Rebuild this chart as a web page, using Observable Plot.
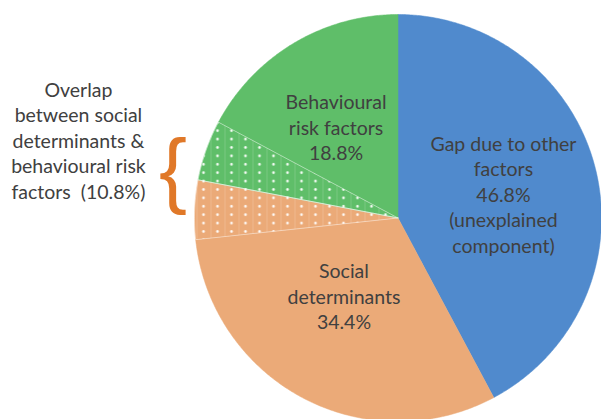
<!DOCTYPE html>
<html><head><meta charset="utf-8">
<script src="https://cdn.jsdelivr.net/npm/d3@7"></script>
<script src="https://cdn.jsdelivr.net/npm/@observablehq/plot@0.6"></script>
<style>html,body{margin:0;padding:0;background:#fff;}</style>
</head><body><div id="chart"></div>
<script>
// ---- data ----
const sliceNames = ["Gap due to other factors", "Social determinants", "Overlap (social side)", "Overlap (behavioural side)", "Behavioural risk factors"];
const sliceShares = [42.2, 31.1, 4.7, 4.8, 17.2];
const sliceColors = ["#508ACD", "#EBAA78", "#EBAA78", "#5FBE69", "#5FBE69"];
const slicePatterned = [false, false, true, true, false];

const labelTexts = [
  "Gap due to other\nfactors\n46.8%\n(unexplained\ncomponent)",
  "Social\ndeterminants\n34.4%",
  "Behavioural\nrisk factors\n18.8%",
  "Overlap\nbetween social\ndeterminants &\nbehavioural risk\nfactors\u00a0 (10.8%)"
];
// label anchors: polar (degrees clockwise from top, radius as fraction of pie radius)
const labelAngles = [76.9, 214.9, 325.9, 283.8];
const labelRadii = [0.532, 0.464, 0.543, 1.617];
const braceAngle = 281.7, braceRadius = 1.129;

// ---- layout ----
const W = 601, H = 419, CX = 397.5, CY = 217.5, R = 203.5;

const pie = d3.pie().sort(null).value(d => d)(sliceShares);
const polys = [];
pie.forEach((p, i) => {
  const pts = [[0, 0]];
  const n = Math.max(2, Math.ceil((p.endAngle - p.startAngle) / (Math.PI / 360)));
  for (let k = 0; k <= n; k++) {
    const a = p.startAngle + (p.endAngle - p.startAngle) * k / n;
    pts.push([Math.sin(a), Math.cos(a)]);
  }
  pts.push([0, 0]);
  pts.forEach(([x, y]) => polys.push({slice: sliceNames[i], color: sliceColors[i], pattern: slicePatterned[i], x, y}));
});
const rad = d => d * Math.PI / 180;
const labels = labelTexts.map((t, i) => ({text: t, x: labelRadii[i] * Math.sin(rad(labelAngles[i])), y: labelRadii[i] * Math.cos(rad(labelAngles[i]))}));
const brace = [{text: "{", x: braceRadius * Math.sin(rad(braceAngle)), y: braceRadius * Math.cos(rad(braceAngle))}];

const svg = Plot.plot({
  width: W, height: H,
  marginTop: 0, marginRight: 0, marginBottom: 0, marginLeft: 0,
  x: {domain: [(0 - CX) / R, (W - CX) / R], axis: null},
  y: {domain: [(CY - H) / R, CY / R], axis: null},
  color: {type: "identity"},
  marks: [
    Plot.line(polys, {x: "x", y: "y", z: "slice", fill: "color", stroke: "color", strokeWidth: 0.5, curve: "linear"}),
    Plot.line(polys.filter(d => d.pattern), {x: "x", y: "y", z: "slice", fill: "url(#dots)", stroke: "#ffffff", strokeOpacity: 0.55, strokeWidth: 0.8, curve: "linear"}),
    Plot.text(labels, {x: "x", y: "y", text: "text", fontSize: 19.5, lineHeight: 1.31, fill: "#404040", fontFamily: "Lato"}),
    Plot.text(brace, {x: "x", y: "y", text: "text", fontSize: 84, fill: "#E07828", fontFamily: "Liberation Sans", fontWeight: 300})
  ]
});
const ns = "http://www.w3.org/2000/svg";
const defs = document.createElementNS(ns, "defs");
defs.innerHTML = '<pattern id="dots" patternUnits="userSpaceOnUse" width="14" height="8.4"><path d="M0.4,0V8.4" stroke="#fff" stroke-opacity="0.22" stroke-width="0.8"/><circle cx="7" cy="4.2" r="1.3" fill="#fff" fill-opacity="0.95"/></pattern>';
svg.prepend(defs);
document.getElementById("chart").appendChild(svg);
</script>
</body></html>
